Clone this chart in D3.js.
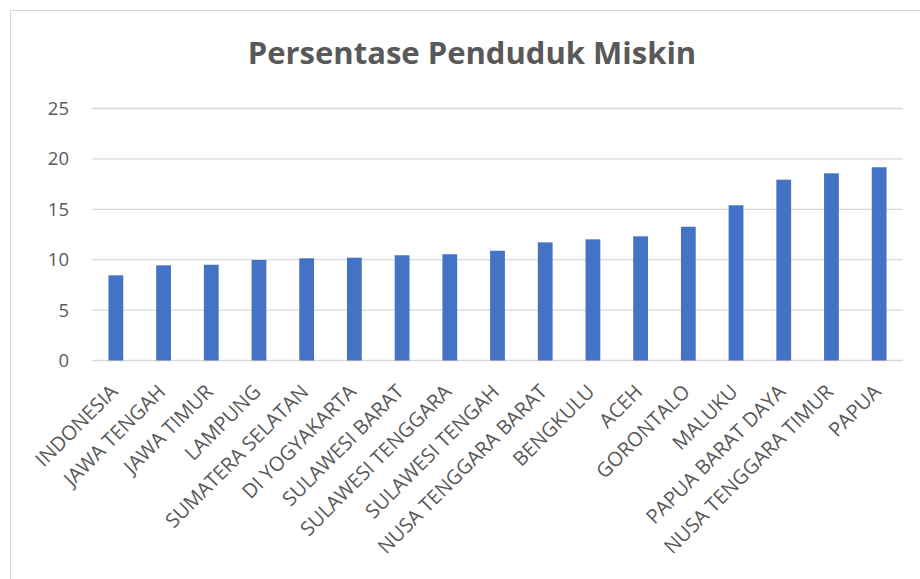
<!DOCTYPE html>
<html>
<head>
<meta charset="utf-8">
<script src="https://cdn.jsdelivr.net/npm/d3@7"></script>
<style>
  body { margin: 0; background: #fff; }
  svg text { font-family: "Open Sans", sans-serif; fill: #595959; }
</style>
</head>
<body>
<div id="chart"></div>
<script>
var width = 920,
  height = 579;

var provinces = ['INDONESIA', 'JAWA TENGAH', 'JAWA TIMUR', 'LAMPUNG', 'SUMATERA SELATAN',
  'DI YOGYAKARTA', 'SULAWESI BARAT', 'SULAWESI TENGGARA', 'SULAWESI TENGAH',
  'NUSA TENGGARA BARAT', 'BENGKULU', 'ACEH', 'GORONTALO', 'MALUKU',
  'PAPUA BARAT DAYA', 'NUSA TENGGARA TIMUR', 'PAPUA'];
var persen = [8.45, 9.44, 9.5, 9.97, 10.14, 10.2, 10.44, 10.54, 10.89,
  11.72, 12.02, 12.32, 13.27, 15.4, 17.94, 18.57, 19.17];
var yTicks = [0, 5, 10, 15, 20, 25];

var svg = d3.select('#chart').append('svg')
  .attr('width', width)
  .attr('height', height)

// frame of the chart area
svg.append('rect')
  .attr('x', 10.5)
  .attr('y', 10.5)
  .attr('width', 940)
  .attr('height', 620)
  .attr('fill', 'none')
  .attr('stroke', '#d9d9d9')

svg.append('text')
  .attr('x', 472)
  .attr('y', 64)
  .attr('text-anchor', 'middle')
  .style('font-size', '31px')
  .style('font-weight', 700)
  .text('Persentase Penduduk Miskin')

var x = d3.scaleBand()
  .domain(provinces)
  .range([92, 903])
  .paddingInner(0.69)
  .paddingOuter(0.345);

var y = d3.scaleLinear()
  .domain([0, 25])
  .range([360.5, 108.5]);

// gridlines
svg.append('g')
  .selectAll('line')
  .data(yTicks)
  .enter().append('line')
  .attr('x1', 92)
  .attr('x2', 903)
  .attr('y1', function(d) { return y(d) })
  .attr('y2', function(d) { return y(d) })
  .attr('stroke', '#d9d9d9')
  .attr('stroke-width', 1.3)

// y labels
svg.append('g')
  .selectAll('text')
  .data(yTicks)
  .enter().append('text')
  .attr('x', 69)
  .attr('y', function(d) { return y(d) + 6.5 })
  .attr('text-anchor', 'end')
  .style('font-size', '18.5px')
  .text(function(d) { return d })

svg.append('g')
  .selectAll('rect')
  .data(persen)
  .enter().append('rect')
  .attr('x', function(d, i) { return x(provinces[i]) })
  .attr('width', x.bandwidth())
  .attr('y', function(d) { return y(d) })
  .attr('height', function(d) { return y(0) - y(d) })
  .attr('fill', '#4472c4')

// rotated category labels
svg.append('g')
  .selectAll('text')
  .data(provinces)
  .enter().append('text')
  .attr('text-anchor', 'end')
  .attr('transform', function(d) {
    var cx = x(d) + x.bandwidth() / 2 + 3;
    return 'translate(' + cx + ',' + 393 + ') rotate(-45)';
  })
  .style('font-size', '20px')
  .text(function(d) { return d })
</script>
</body>
</html>
